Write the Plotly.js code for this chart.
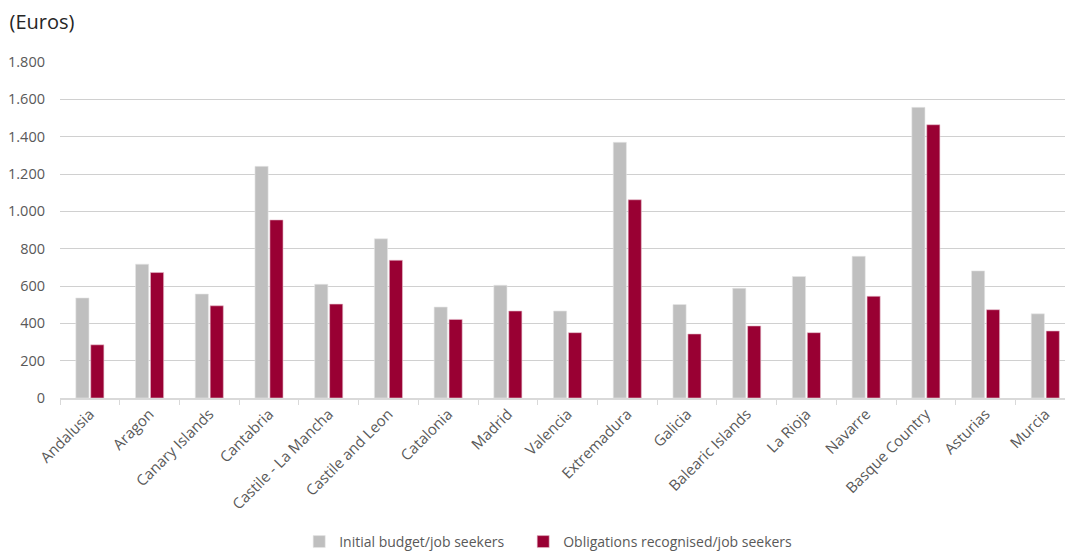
<!DOCTYPE html>
<html>
<head>
<meta charset="utf-8">
<script src="https://cdn.plot.ly/plotly-3.0.1.min.js"></script>
<style>html,body{margin:0;padding:0;background:#fff;}#chart{width:1065px;height:558px;}</style>
</head>
<body>
<div id="chart"></div>
<script>
const regions = ["Andalusia","Aragon","Canary Islands","Cantabria","Castile - La Mancha","Castile and Leon","Catalonia","Madrid","Valencia","Extremadura","Galicia","Balearic Islands","La Rioja","Navarre","Basque Country","Asturias","Murcia"];
const initialBudget = [536,717,557,1241,609,853,487,604,466,1370,501,588,651,759,1557,681,451];
const obligations = [285,672,494,954,503,738,421,466,350,1062,343,386,350,545,1464,473,359];
const yTickVals = [0,200,400,600,800,1000,1200,1400,1600,1800];
const yTickText = ["0","200","400","600","800","1.000","1.200","1.400","1.600","1.800"];

const traces = [
  {type:"bar", name:"Initial budget/job seekers", x:regions, y:initialBudget, legendwidth:179,
   marker:{color:"#BFBFBF", line:{color:"#E6E6E6", width:0.6}}},
  {type:"bar", name:"Obligations recognised/job seekers", x:regions, y:obligations, legendwidth:270,
   marker:{color:"#990033", line:{color:"#E6C0CC", width:0.6}}}
];

const layout = {
  width:1065, height:558,
  margin:{l:60, r:0, t:62, b:155},
  paper_bgcolor:"#fff", plot_bgcolor:"#fff",
  font:{family:"Open Sans, sans-serif", color:"#595959"},
  barmode:"group", bargap:0.5, bargroupgap:0.12,
  title:{text:"(Euros)", xref:"container", yref:"container", x:0.009, xanchor:"left", y:0.96, yanchor:"middle",
         font:{family:"Open Sans, sans-serif", size:20, color:"#262626"}},
  xaxis:{type:"category", range:[-0.5,16.33], tickangle:-45, tickson:"boundaries",
         ticks:"outside", ticklen:5, tickcolor:"#D9D9D9", showline:true, linecolor:"#D9D9D9", linewidth:1.5,
         showgrid:false, tickfont:{size:15, color:"#595959"}, automargin:false},
  yaxis:{range:[0,1800], tickvals:yTickVals, ticktext:yTickText, showgrid:true, gridcolor:"#D0D0D0", gridwidth:1,
         zeroline:false, showline:false, ticks:"", ticklabelstandoff:14, tickfont:{size:14.5, color:"#595959"}, automargin:false},
  legend:{orientation:"h", x:0.238, xanchor:"left", y:-0.43, yanchor:"middle",
          font:{size:14, color:"#595959"}, itemwidth:30, traceorder:"normal"},
  showlegend:true
};

Plotly.newPlot("chart", traces, layout, {displayModeBar:false, staticPlot:true});
</script>
</body>
</html>
